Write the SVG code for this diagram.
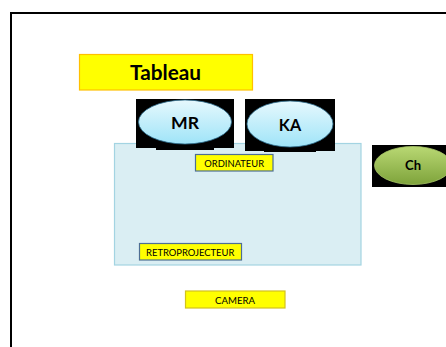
<svg xmlns="http://www.w3.org/2000/svg" width="446" height="347" viewBox="0 0 446 347">
  <defs>
    <linearGradient id="blueGrad" x1="0" y1="0" x2="0" y2="1">
      <stop offset="0" stop-color="#E6F8FD"/>
      <stop offset="1" stop-color="#9FE4F8"/>
    </linearGradient>
    <linearGradient id="greenGrad" x1="0" y1="0" x2="0" y2="1">
      <stop offset="0" stop-color="#B9D873"/>
      <stop offset="1" stop-color="#7EA33B"/>
    </linearGradient>
  </defs>
  <style>
    .lbl { font-family: Lato, "Liberation Sans", sans-serif; fill: #000; text-anchor: middle; }
    .bold { font-weight: bold; }
    .ybox { fill: #FFFF00; stroke-width: 1.2; }
    .blueEll { fill: url(#blueGrad); stroke: #2F6F8F; stroke-width: 0.8; }
  </style>
  <rect x="11" y="13" width="450" height="350" fill="#FFFFFF" stroke="#000000" stroke-width="2"/>

  <g id="salle">
    <rect x="114.5" y="143.5" width="246.5" height="121.5" fill="#DAEEF3" stroke="#A3D4E2" stroke-width="1.2"/>
  </g>

  <g id="tableau">
    <rect class="ybox" x="79.5" y="54.5" width="173" height="35.5" stroke="#FFC000"/>
    <text class="lbl bold" x="165.5" y="80" font-size="20" textLength="71" lengthAdjust="spacingAndGlyphs">Tableau</text>
  </g>

  <g id="mr">
    <rect x="136" y="99" width="98" height="49" fill="#000"/>
    <rect x="156" y="147" width="58" height="3" fill="#000"/>
    <ellipse class="blueEll" cx="185" cy="122" rx="46.5" ry="22"/>
    <text class="lbl bold" x="185" y="129" font-size="17" textLength="28" lengthAdjust="spacingAndGlyphs">MR</text>
  </g>

  <g id="ka">
    <rect x="245" y="99" width="90" height="52" fill="#000"/>
    <rect x="264" y="150" width="52" height="2" fill="#000"/>
    <ellipse class="blueEll" cx="290" cy="124" rx="43" ry="23"/>
    <text class="lbl bold" x="290" y="131.3" font-size="17" textLength="22.3" lengthAdjust="spacingAndGlyphs">KA</text>
  </g>

  <g id="ch">
    <rect x="372" y="145" width="80" height="42" fill="#000"/>
    <ellipse cx="413" cy="165.5" rx="38.5" ry="19" fill="url(#greenGrad)" stroke="#A9C86A" stroke-width="0.8"/>
    <text class="lbl bold" x="413" y="170" font-size="13.5" textLength="16" lengthAdjust="spacingAndGlyphs">Ch</text>
  </g>

  <g id="ordinateur">
    <rect class="ybox" x="195.5" y="154.5" width="77.5" height="16.5" stroke="#4E6E93"/>
    <text class="lbl" x="234.2" y="167.3" font-size="10" textLength="59.7" lengthAdjust="spacingAndGlyphs">ORDINATEUR</text>
  </g>

  <g id="retroprojecteur">
    <rect class="ybox" x="139.5" y="243.5" width="102" height="16.5" stroke="#4E6E93"/>
    <text class="lbl" x="190.2" y="255.7" font-size="10" textLength="88.3" lengthAdjust="spacingAndGlyphs">RETROPROJECTEUR</text>
  </g>

  <g id="camera">
    <rect class="ybox" x="185.5" y="291" width="99.5" height="17" stroke="#D2C21E"/>
    <text class="lbl" x="235" y="304" font-size="10" textLength="40" lengthAdjust="spacingAndGlyphs">CAMERA</text>
  </g>

  <g id="connectors"></g>
</svg>
